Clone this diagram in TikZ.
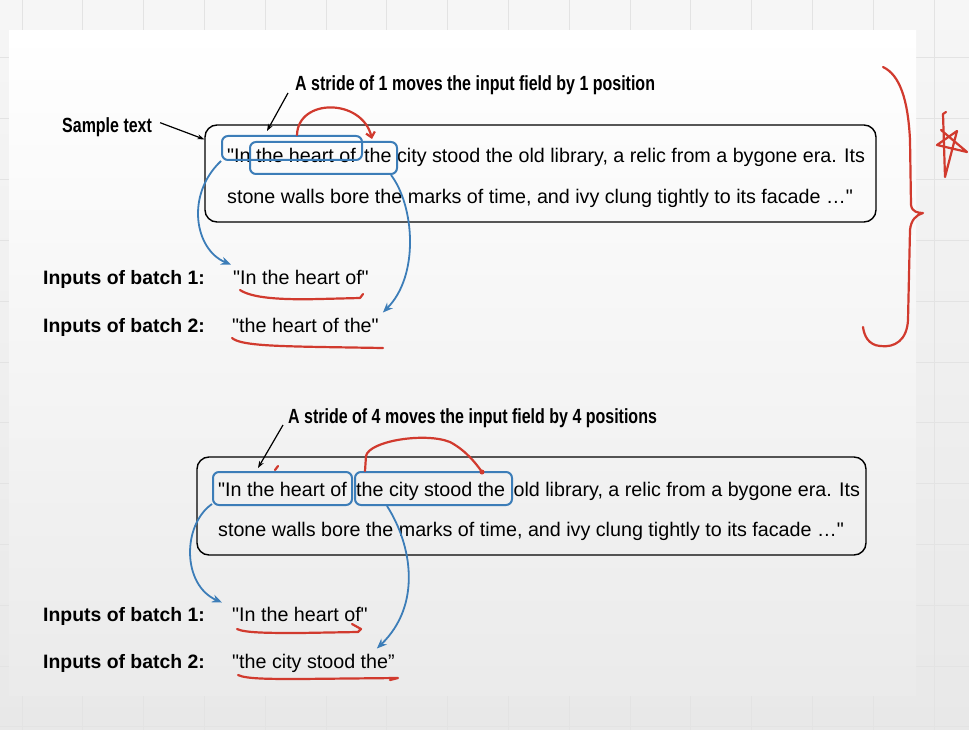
\documentclass[tikz,border=0pt]{standalone}
\usepackage{fontspec}
\newfontfamily\bodyfont{Liberation Sans}
\newfontfamily\notefont{Liberation Sans}[FakeStretch=0.78]
\usetikzlibrary{arrows.meta,positioning,calc}
\definecolor{winblue}{HTML}{3C7DB8}
\definecolor{penred}{HTML}{D13A2E}

\tikzset{
  body/.style={font=\bodyfont\fontsize{19.7}{22}\selectfont, inner sep=0pt, anchor=base west},
  batchlab/.style={font=\bodyfont\bfseries\fontsize{19.4}{22}\selectfont, inner sep=0pt, anchor=base west},
  note/.style={font=\notefont\bfseries\fontsize{20.5}{22}\selectfont, inner sep=0pt, anchor=base west},
  textbox/.style={draw, line width=1.4pt, rounded corners=12pt, inner sep=0pt},
  winbox/.style={draw=winblue, line width=2pt, rounded corners=6pt, inner sep=0pt},
  flow/.style={winblue, line width=1.8pt, -{Stealth[length=10pt,width=8pt]}},
  pointer/.style={line width=1.2pt, -{Stealth[length=7pt,width=5pt]}},
  pen/.style={penred, line width=2.2pt, line cap=round, line join=round}
}

\begin{document}
\begin{tikzpicture}[x=1pt,y=-1pt]
  \useasboundingbox (0,0) rectangle (969,730);
  % backdrop and slide
  \shade[top color=gray!7, bottom color=gray!18] (0,0) rectangle (969,730);
  \foreach \k in {0,...,15}
    \draw[gray!22, line width=1pt] (22+60.8*\k,0) -- (22+60.8*\k,730);
  \foreach \k in {-1,...,11}
    \draw[gray!22, line width=1pt] (0,58+60.8*\k) -- (969,58+60.8*\k);
  \shade[top color=white, middle color=white, bottom color=gray!16] (9,31) rectangle (916,695);

  % stride 1
  \node[note] (stride1) at (295,91) {A stride of 1 moves the input field by 1 position};
  \node[note] (sample) at (62,133) {Sample text};
  \node[textbox, minimum width=671pt, minimum height=97pt] (box1) at (540.5,173.5) {};
  \node[body] (line11) at (227,163) {"In the heart of\hspace{3pt} the city stood the old library, a relic from a bygone era. Its};
  \node[body] (line12) at (227,204) {stone walls bore the marks of time, and ivy clung tightly to its facade …"};
  \node[winbox, minimum width=140pt, minimum height=24pt] (winA1) at (292,148) {};
  \node[winbox, minimum width=147pt, minimum height=32pt] (winB1) at (323.5,158) {};

  \node[batchlab] (lab11) at (43,284) {Inputs of batch 1:};
  \node[batchlab] (lab12) at (43,332) {Inputs of batch 2:};
  \node[body] (val11) at (233,284) {"In the heart of"};
  \node[body] (val12) at (232,332) {"the heart of the"};

  \draw[pointer] (sample.east) ++(8,-5) -- ([yshift=-15pt]box1.north west);
  \draw[pointer] ([xshift=-7pt,yshift=-2pt]stride1.base west) -- (267,131);
  \draw[flow] (winA1.south west) .. controls (185,195) and (195,250) .. ([shift={(-2pt,5pt)}]val11.north west);
  \draw[flow] ([xshift=-7pt]winB1.south east) .. controls (414,205) and (420,275) .. ([shift={(4pt,5pt)}]val12.north east);

  % stride 4
  \node[note] (stride4) at (288,423) {A stride of 4 moves the input field by 4 positions};
  \node[textbox, minimum width=669pt, minimum height=98pt] (box2) at (531.5,506) {};
  \node[body] (line21) at (218,496) {"In the heart of\hspace{4pt} the city stood the\hspace{3pt} old library, a relic from a bygone era. Its};
  \node[body] (line22) at (218,536) {stone walls bore the marks of time, and ivy clung tightly to its facade …"};
  \node[winbox, minimum width=139pt, minimum height=33pt] (winA2) at (282.5,488.5) {};
  \node[winbox, minimum width=157pt, minimum height=33pt] (winB2) at (433.5,488.5) {};

  \node[batchlab] (lab21) at (43,621) {Inputs of batch 1:};
  \node[batchlab] (lab22) at (43,668) {Inputs of batch 2:};
  \node[body] (val21) at (232,621) {"In the heart of"};
  \node[body] (val22) at (232,668) {"the city stood the”};

  \draw[pointer] ([xshift=-5pt,yshift=-2pt]stride4.base west) -- (258,468);
  \draw[flow] ([yshift=2pt]winA2.south west) .. controls (182,525) and (182,585) .. ([shift={(-10pt,4pt)}]val21.north west);
  \draw[flow] ([xshift=33pt]winB2.south west) .. controls (412,545) and (422,605) .. ([shift={(-18pt,5pt)}]val22.north east);

  % pen marks
  \draw[pen, -{Straight Barb[length=5pt,width=9pt]}] (winA1.north) ++(5,0) .. controls (298,98) and (362,98) .. (372,139);
  \draw[pen] (240,290) .. controls (252,298) and (280,300) .. (320,299) -- (360,298) -- (363,294);
  \draw[pen] (232,338) .. controls (240,345) and (270,346) .. (320,347) -- (383,348);
  \draw[pen] (365,471) -- (366,456) .. controls (369,441) and (425,432) .. (450,442) .. controls (465,450) and (475,462) .. (482,472);
  \fill[penred] (482,472) circle (2.5pt);
  \draw[pen] (275,470) -- (278,466);
  \draw[pen] (237,629) .. controls (245,633) and (270,633) .. (300,633) -- (358,632) -- (361,629) -- (352,624);
  \draw[pen] (238,675) .. controls (246,679) and (270,679) .. (300,679) -- (398,678) -- (390,680);
  \draw[pen] (883,67) .. controls (900,75) and (908,100) .. (910,140) -- (911,205)
    .. controls (912,212) and (918,213) .. (923,213)
    .. controls (916,215) and (911,220) .. (910,230) -- (908,320)
    .. controls (907,340) and (895,348) .. (880,346)
    .. controls (868,345) and (864,335) .. (863,327);
  \draw[pen] (946,112) -- (943,114) -- (945,177) -- (957,131) -- (937,145) -- (967,152) -- (941,130);
\end{tikzpicture}
\end{document}
